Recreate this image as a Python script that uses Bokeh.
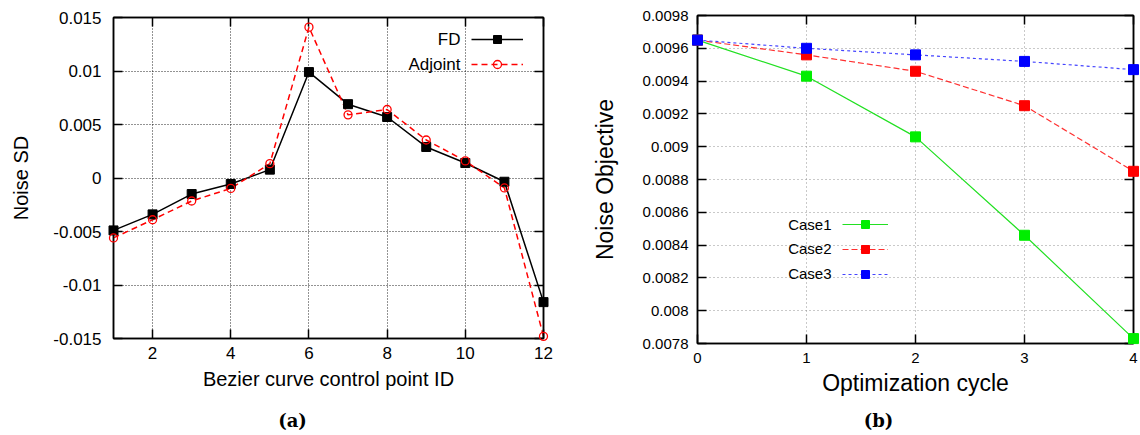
from bokeh.plotting import figure
from bokeh.layouts import row, column
from bokeh.models import LinearAxis, FixedTicker, Range1d, Legend, LegendItem, Label
from bokeh.core.properties import value
from bokeh.embed import file_html
from bokeh.resources import INLINE

# ---------------- data: panel (a) ----------------
point_id = [1, 2, 3, 4, 5, 6, 7, 8, 9, 10, 11, 12]
fd_sd = [-0.0049, -0.0034, -0.0015, -0.00056, 0.00078, 0.0099,
         0.0069, 0.0057, 0.0029, 0.0014, -0.00035, -0.0116]
adjoint_sd = [-0.0056, -0.0039, -0.00215, -0.00097, 0.00134, 0.0141,
              0.0059, 0.0064, 0.00355, 0.0016, -0.00093, -0.0148]
a_xticks = [2, 4, 6, 8, 10, 12]
a_yticks = [-0.015, -0.01, -0.005, 0.0, 0.005, 0.01, 0.015]
a_ylabels = ["-0.015", "-0.01", "-0.005", "0", "0.005", "0.01", "0.015"]

# ---------------- data: panel (b) ----------------
cycle = [0, 1, 2, 3, 4]
case1 = [0.00965, 0.00943, 0.00906, 0.00846, 0.00783]
case2 = [0.00965, 0.00956, 0.00946, 0.00925, 0.00885]
case3 = [0.00965, 0.00960, 0.00956, 0.00952, 0.00947]
b_xticks = [0, 1, 2, 3, 4]
b_yticks = [0.0078, 0.0080, 0.0082, 0.0084, 0.0086, 0.0088,
            0.0090, 0.0092, 0.0094, 0.0096, 0.0098]
b_ylabels = ["0.0078", "0.008", "0.0082", "0.0084", "0.0086", "0.0088",
             "0.009", "0.0092", "0.0094", "0.0096", "0.0098"]

captions = ["(a)", "(b)"]

FONT = "Liberation Sans"


def style_axis(ax, ticks, labels, font_size):
    ax.ticker = FixedTicker(ticks=ticks)
    ax.major_label_overrides = {t: l for t, l in zip(ticks, labels)}
    ax.major_tick_in = 9
    ax.major_tick_out = 0
    ax.minor_tick_in = 0
    ax.minor_tick_out = 0
    ax.axis_line_color = "black"
    ax.axis_line_width = 1.5
    ax.major_tick_line_color = "black"
    ax.major_tick_line_width = 1.5
    ax.major_label_text_font = FONT
    ax.major_label_text_font_size = font_size
    ax.major_label_text_color = "black"


def mirror_axes(p, xticks, yticks):
    for side, ticks in (("above", xticks), ("right", yticks)):
        ax = LinearAxis()
        style_axis(ax, ticks, ["" for _ in ticks], "10px")
        ax.major_label_standoff = 0
        p.add_layout(ax, side)


def base_fig(w, h, xr, yr, mb):
    p = figure(width=w, height=h,
               x_range=Range1d(*xr), y_range=Range1d(*yr),
               output_backend="svg", toolbar_location=None, tools="",
               min_border_left=mb[0], min_border_right=mb[1],
               min_border_top=mb[2], min_border_bottom=mb[3])
    p.outline_line_color = "black"
    p.outline_line_width = 1.5
    p.background_fill_color = "white"
    p.border_fill_color = "white"
    return p


# ================= panel (a) =================
p1 = base_fig(580, 405, (1, 12), (-0.015, 0.015), (113, 37, 17, 67))
style_axis(p1.xaxis[0], a_xticks, [str(t) for t in a_xticks], "17px")
style_axis(p1.yaxis[0], a_yticks, a_ylabels, "17px")
p1.xaxis[0].major_label_standoff = 8
p1.yaxis[0].major_label_standoff = 12
p1.xaxis[0].axis_label = "Bezier curve control point ID"
p1.yaxis[0].axis_label = "Noise SD"
for ax in (p1.xaxis[0], p1.yaxis[0]):
    ax.axis_label_text_font = FONT
    ax.axis_label_text_font_size = "20px"
    ax.axis_label_text_font_style = "normal"
    ax.axis_label_text_color = "black"
p1.xaxis[0].axis_label_standoff = 6
p1.yaxis[0].axis_label_standoff = 18
mirror_axes(p1, a_xticks, a_yticks)
for g in (p1.xgrid[0], p1.ygrid[0]):
    g.grid_line_color = "black"
    g.grid_line_alpha = 0.85
    g.grid_line_dash = "1 2"
    g.grid_line_width = 1
p1.xgrid[0].ticker = FixedTicker(ticks=a_xticks)
p1.ygrid[0].ticker = FixedTicker(ticks=a_yticks)

fd_line = p1.line(point_id, fd_sd, line_color="black", line_width=1.5)
fd_pts = p1.scatter(point_id, fd_sd, marker="square", size=9,
                    fill_color="black", line_color="black", level="overlay")
ad_line = p1.line(point_id, adjoint_sd, line_color="#ff0000", line_width=1.5,
                  line_dash="6 4")
ad_pts = p1.scatter(point_id, adjoint_sd, marker="circle", size=8,
                    fill_color=None, line_color="#ff0000", line_width=1.3,
                    level="overlay")

leg1 = Legend(items=[LegendItem(label=value(""), renderers=[fd_line, fd_pts]),
                     LegendItem(label=value(""), renderers=[ad_line, ad_pts])],
              location=(358, 264), glyph_width=52, glyph_height=20,
              label_width=0, label_height=20, label_standoff=0, spacing=5,
              padding=0, margin=0, border_line_alpha=0,
              background_fill_alpha=0)
p1.add_layout(leg1)
for txt, yy in (("FD", 299), ("Adjoint", 274)):
    p1.add_layout(Label(x=347, y=yy, x_units="screen", y_units="screen",
                        text=txt, text_align="right", text_baseline="middle",
                        text_font=FONT, text_font_size="17px",
                        text_color="black"))

# ================= panel (b) =================
p2 = base_fig(560, 405, (0, 4), (0.0078, 0.0098), (117, 7, 15, 62))
style_axis(p2.xaxis[0], b_xticks, [str(t) for t in b_xticks], "15px")
style_axis(p2.yaxis[0], b_yticks, b_ylabels, "15px")
p2.xaxis[0].major_label_standoff = 9
p2.yaxis[0].major_label_standoff = 9
p2.xaxis[0].axis_label = "Optimization cycle"
p2.yaxis[0].axis_label = "Noise Objective"
for ax in (p2.xaxis[0], p2.yaxis[0]):
    ax.axis_label_text_font = FONT
    ax.axis_label_text_font_size = "23px"
    ax.axis_label_text_font_style = "normal"
    ax.axis_label_text_color = "black"
p2.xaxis[0].axis_label_standoff = 4
p2.yaxis[0].axis_label_standoff = 22
mirror_axes(p2, b_xticks, b_yticks)
for g in (p2.xgrid[0], p2.ygrid[0]):
    g.grid_line_color = "#888888"
    g.grid_line_alpha = 0.9
    g.grid_line_dash = "1 3"
    g.grid_line_width = 1
p2.xgrid[0].ticker = FixedTicker(ticks=b_xticks)
p2.ygrid[0].ticker = FixedTicker(ticks=b_yticks)

series = [(case1, "#22e022", "#00ee00", None),
          (case2, "#ff3030", "#ff0000", "6 3"),
          (case3, "#4444ff", "#0000ff", "3 3")]
items = []
for vals, lc, mc, dash in series:
    kw = {} if dash is None else {"line_dash": dash}
    ln = p2.line(cycle, vals, line_color=lc, line_width=1.2, **kw)
    pt = p2.scatter(cycle, vals, marker="square", size=10, fill_color=mc,
                    line_color=mc, level="overlay")
    items.append(LegendItem(label=value(""), renderers=[ln, pt]))

leg2 = Legend(items=items, location=(145, 59), glyph_width=46, glyph_height=20,
              label_width=0, label_height=20, label_standoff=0, spacing=5,
              padding=0, margin=0, border_line_alpha=0, background_fill_alpha=0)
p2.add_layout(leg2)
for txt, yy in (("Case1", 119), ("Case2", 95), ("Case3", 70)):
    p2.add_layout(Label(x=134, y=yy, x_units="screen", y_units="screen",
                        text=txt, text_align="right", text_baseline="middle",
                        text_font=FONT, text_font_size="15px",
                        text_color="black"))

# ================= captions strip =================
p3 = figure(width=1140, height=30, x_range=Range1d(0, 1140),
            y_range=Range1d(0, 30), output_backend="svg",
            toolbar_location=None, tools="", min_border=0,
            x_axis_location=None, y_axis_location=None)
p3.outline_line_color = None
p3.grid.visible = False
p3.text(x=[292, 878], y=[15, 15], text=captions, text_align="center",
        text_baseline="middle", text_font=value("DejaVu Serif"),
        text_font_style="bold", text_font_size=value("18px"),
        text_color="black")

layout = column(row(column(p1), column(p2)), p3)
open("out.html", "w").write(file_html(layout, INLINE))
